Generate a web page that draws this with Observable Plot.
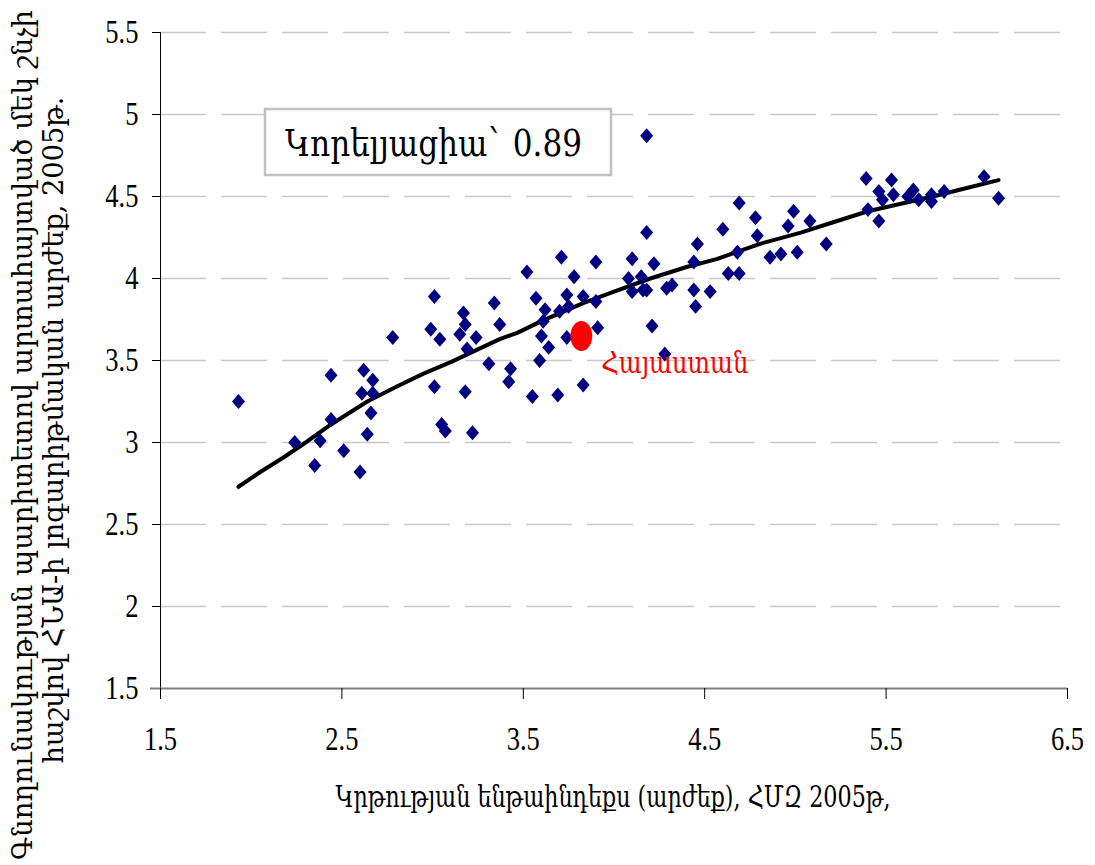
<!DOCTYPE html>
<html><head><meta charset="utf-8">
<script src="https://cdn.jsdelivr.net/npm/d3@7"></script>
<script src="https://cdn.jsdelivr.net/npm/@observablehq/plot@0.6"></script>
<style>body{margin:0;background:#fff} #chart{position:relative;width:1095px;height:865px}</style>
</head><body><div id="chart"></div>
<script>
const eduIndex = [1.93,2.24,2.35,2.38,2.44,2.44,2.51,2.60,2.62,2.61,2.67,2.67,2.66,2.64,2.78,3.01,2.99,3.04,3.01,3.05,3.07,3.17,3.18,3.15,3.24,3.19,3.31,3.18,3.22,3.34,3.37,3.43,3.42,3.52,3.57,3.62,3.61,3.60,3.64,3.59,3.55,3.69,3.71,3.70,3.74,3.75,3.74,3.78,3.83,3.83,3.90,3.90,3.91,4.10,4.08,4.15,4.10,4.16,4.18,4.18,4.22,4.21,4.28,4.29,4.32,4.44,4.46,4.44,4.45,4.53,4.60,4.63,4.69,4.68,4.69,4.78,4.79,4.86,4.92,4.96,4.99,5.01,5.08,5.17,5.39,5.40,5.46,5.48,5.46,5.53,5.54,5.62,5.65,5.68,5.75,5.75,5.82,6.04,6.12,4.18];
const gdpLog = [3.25,3.00,2.86,3.01,3.41,3.14,2.95,2.82,3.44,3.30,3.38,3.30,3.18,3.05,3.64,3.89,3.69,3.63,3.34,3.11,3.07,3.79,3.72,3.66,3.64,3.57,3.48,3.31,3.06,3.85,3.72,3.45,3.37,4.04,3.88,3.81,3.74,3.65,3.58,3.50,3.28,3.29,4.13,3.80,3.90,3.83,3.64,4.01,3.89,3.35,4.10,3.86,3.70,4.12,4.00,4.01,3.92,3.93,3.93,4.28,4.09,3.71,3.54,3.94,3.96,4.10,4.21,3.93,3.83,3.92,4.30,4.03,4.03,4.16,4.46,4.37,4.26,4.13,4.15,4.32,4.41,4.16,4.35,4.21,4.61,4.42,4.53,4.48,4.35,4.60,4.51,4.50,4.54,4.48,4.51,4.47,4.53,4.62,4.49,4.87];
const trendX = [1.93,2.05,2.18,2.30,2.44,2.64,2.80,2.95,3.10,3.37,3.47,3.60,3.83,4.00,4.20,4.40,4.57,4.80,5.03,5.20,5.40,5.60,5.76,5.90,6.12];
const trendY = [2.73,2.82,2.91,3.00,3.11,3.25,3.34,3.42,3.49,3.63,3.67,3.74,3.85,3.92,4.00,4.07,4.12,4.21,4.28,4.34,4.41,4.46,4.50,4.54,4.60];
const armenia = [{x: 3.82, y: 3.65, name: "Հայաստան"}];
const xTicks = [1.5,2.5,3.5,4.5,5.5,6.5];
const yTicks = [1.5,2,2.5,3,3.5,4,4.5,5,5.5];
const xTitle = "Կրթության ենթաինդեքս (արժեք), ՀՄԶ 2005թ,";
const yTitle1 = "Գնողունակության պարիտետով արտահայտված մեկ շնչի";
const yTitle2 = "հաշվով ՀՆԱ-ի լոգարիթմական արժեք, 2005թ.";
const corrLabel = "Կորելյացիա` 0.89";

const points = eduIndex.map((x, i) => ({x, y: gdpLog[i]}));
const trend = trendX.map((x, i) => ({x, y: trendY[i]}));

const diamond = {draw(ctx, size) {
  const s = Math.sqrt(size / Math.PI), w = s * 0.93, h = s * 1.07;
  ctx.moveTo(0, -h); ctx.lineTo(w, 0); ctx.lineTo(0, h); ctx.lineTo(-w, 0); ctx.closePath();
}};
const ellipse = {draw(ctx, size) {
  const ry = Math.sqrt(size / Math.PI), rx = ry * 0.73, k = 0.5523;
  ctx.moveTo(rx, 0);
  ctx.bezierCurveTo(rx, ry * k, rx * k, ry, 0, ry);
  ctx.bezierCurveTo(-rx * k, ry, -rx, ry * k, -rx, 0);
  ctx.bezierCurveTo(-rx, -ry * k, -rx * k, -ry, 0, -ry);
  ctx.bezierCurveTo(rx * k, -ry, rx, -ry * k, rx, 0);
  ctx.closePath();
}};

const ARM = "'DejaVu Serif Condensed', 'DejaVu Serif', serif";

const plot = Plot.plot({
  width: 1095, height: 865,
  marginLeft: 160, marginRight: 28, marginTop: 32, marginBottom: 177,
  style: {background: "white", fontFamily: "'Liberation Serif', serif", color: "black"},
  x: {domain: [1.5, 6.5]},
  y: {domain: [1.5, 5.5]},
  marks: [
    Plot.gridY(yTicks.slice(1), {stroke: "#c8c8c8", strokeOpacity: 1, strokeWidth: 1.5, strokeDasharray: "46,15"}),
    Plot.ruleX([1.5], {stroke: "black"}),
    Plot.ruleY([1.5], {stroke: "#808080", strokeWidth: 2, insetLeft: -10}),
    Plot.axisY(yTicks, {tickSize: 0, tickPadding: 22, fontSize: 34, label: null, tickFormat: d => String(d)}),
    Plot.axisY(yTicks.slice(1), {tickSize: 8, tickFormat: () => "", label: null}),
    Plot.axisX(xTicks, {tickSize: 11, tickPadding: 26, fontSize: 34, label: null, tickFormat: d => String(d)}),
    Plot.line(trend, {x: "x", y: "y", stroke: "black", strokeWidth: 4}),
    Plot.dot(points, {x: "x", y: "y", symbol: diamond, r: 7, fill: "#000080"}),
    Plot.dot(armenia, {x: "x", y: "y", symbol: ellipse, r: 15, fill: "#ff0000"}),
    Plot.text(armenia, {x: "x", y: "y", text: "name", dx: 20, dy: 27, textAnchor: "start", fill: "#ff0000", fontSize: 30, fontFamily: ARM})
  ]
});

document.getElementById("chart").append(plot);
const svg = d3.select(plot);

// horizontally narrow the tick labels
svg.selectAll("g[aria-label='y-axis tick label'] text, g[aria-label='x-axis tick label'] text").each(function() {
  const len = this.getComputedTextLength();
  if (len > 0) d3.select(this).attr("textLength", len * 0.78).attr("lengthAdjust", "spacingAndGlyphs");
});
svg.selectAll("g[aria-label='text'] text").attr("textLength", 147).attr("lengthAdjust", "spacingAndGlyphs");

// correlation box
const box = svg.append("g");
box.append("rect").attr("x", 265).attr("y", 109).attr("width", 346).attr("height", 66)
  .attr("fill", "white").attr("stroke", "#c0c0c0").attr("stroke-width", 2.5);
box.append("text").attr("x", 285).attr("y", 156).attr("text-anchor", "start")
  .attr("font-size", 38).attr("font-family", ARM)
  .attr("fill", "black").attr("textLength", 297).attr("lengthAdjust", "spacingAndGlyphs").text(corrLabel);

// axis titles
svg.append("text").attr("x", 613).attr("y", 807).attr("text-anchor", "middle")
  .attr("font-size", 30).attr("font-family", ARM).attr("fill", "black")
  .attr("textLength", 555).attr("lengthAdjust", "spacingAndGlyphs").text(xTitle);
svg.append("text").attr("transform", "translate(32,435) rotate(-90)").attr("text-anchor", "middle")
  .attr("font-size", 27).attr("font-family", ARM).attr("fill", "black")
  .attr("textLength", 850).attr("lengthAdjust", "spacingAndGlyphs").text(yTitle1);
svg.append("text").attr("transform", "translate(63,430) rotate(-90)").attr("text-anchor", "middle")
  .attr("font-size", 27).attr("font-family", ARM).attr("fill", "black")
  .attr("textLength", 667).attr("lengthAdjust", "spacingAndGlyphs").text(yTitle2);
</script>
</body></html>
